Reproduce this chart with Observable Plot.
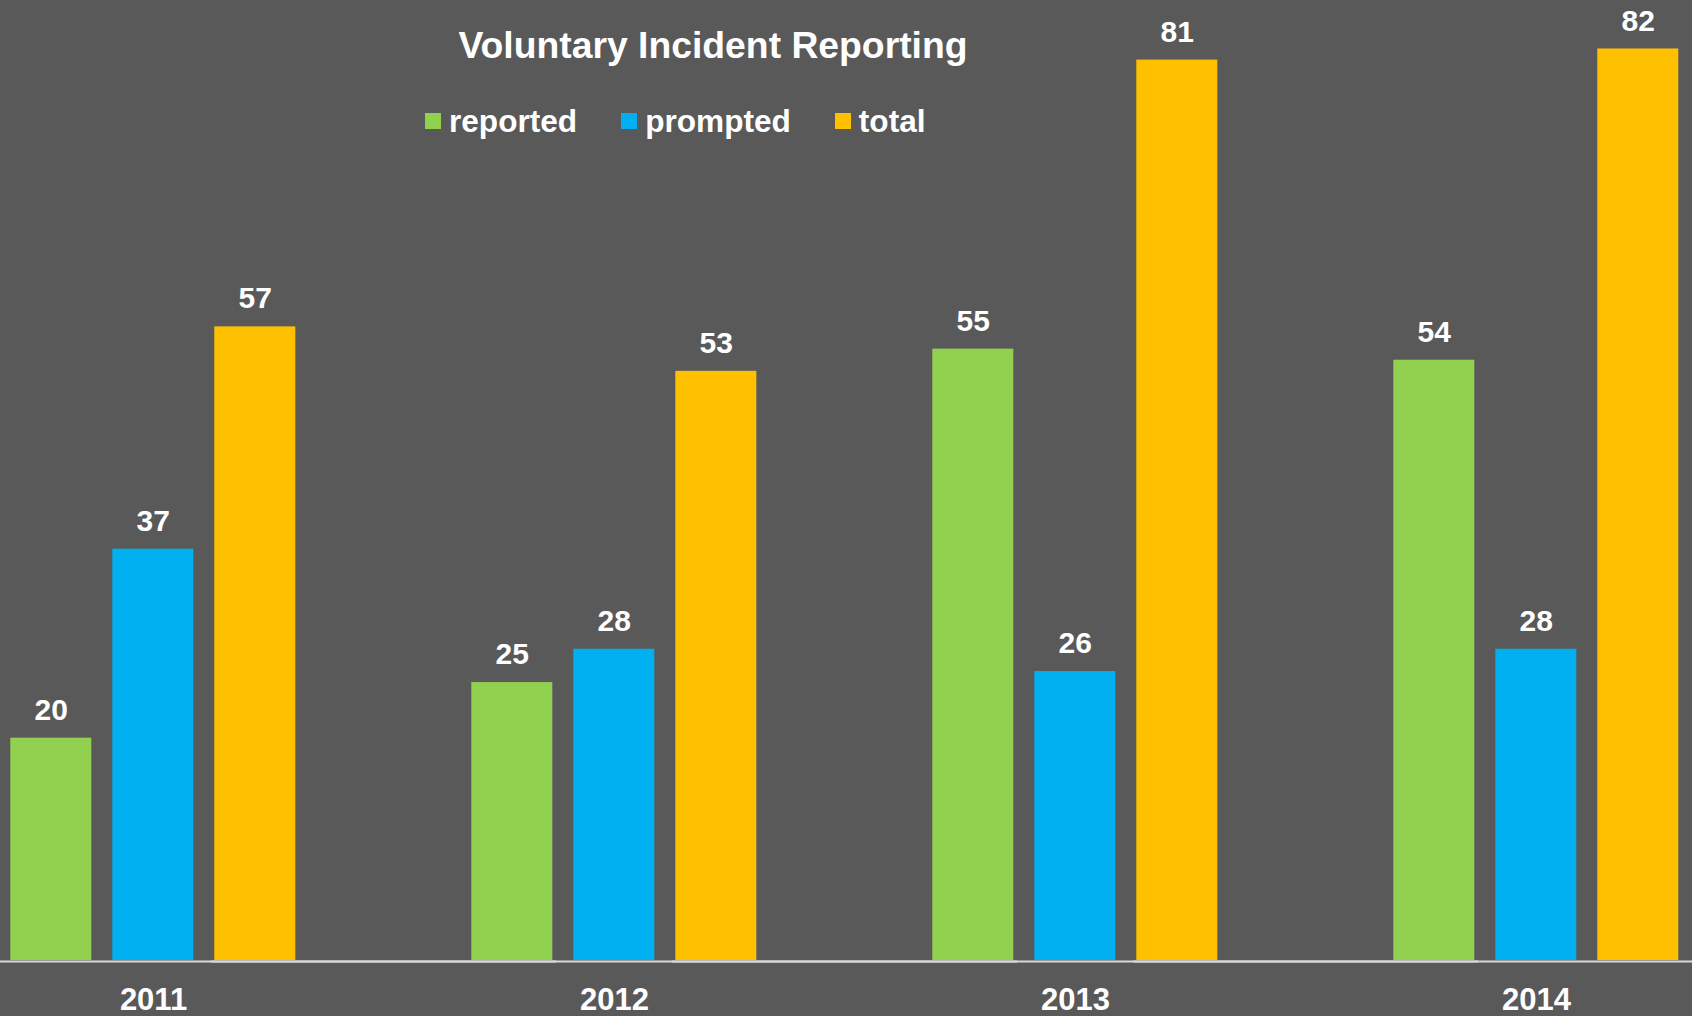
<!DOCTYPE html>
<html>
<head>
<meta charset="utf-8">
<script src="https://cdn.jsdelivr.net/npm/d3@7"></script>
<script src="https://cdn.jsdelivr.net/npm/@observablehq/plot@0.6"></script>
<style>
  html, body { margin: 0; padding: 0; background: #595959; }
  #wrap { position: relative; width: 1692px; height: 1016px; overflow: hidden; font-family: "Liberation Sans", Arial, sans-serif; color: #fff; }
  #title { position: absolute; left: 0; width: 1426px; top: 25.5px; text-align: center; font-size: 37.3px; line-height: 38px; font-weight: bold; }
  #legend { position: absolute; left: 425px; top: 105.5px; display: flex; font-size: 31.6px; line-height: 31px; font-weight: bold; }
  .item { display: flex; align-items: center; margin-right: 44px; }
  .sw { width: 16px; height: 16px; margin-right: 8px; }
</style>
</head>
<body>
<div id="wrap">
  <div id="chart"></div>
  <div id="title">Voluntary Incident Reporting</div>
  <div id="legend"></div>
</div>
<script>
const years = ["2011", "2012", "2013", "2014"];
const series = ["reported", "prompted", "total"];
const colors = ["#92D050", "#00B0F0", "#FFC000"];
const reported = [20, 25, 55, 54];
const prompted = [37, 28, 26, 28];
const total = [57, 53, 81, 82];

const values = {reported, prompted, total};
const data = [];
years.forEach((year, i) => {
  series.forEach(s => data.push({year, series: s, value: values[s][i]}));
});

const chart = Plot.plot({
  width: 1692,
  height: 1016,
  marginLeft: 9.7,
  marginRight: 13,
  marginTop: 4,
  marginBottom: 56,
  style: {background: "#595959", color: "white", fontFamily: "'Liberation Sans', Arial, sans-serif", overflow: "visible"},
  fx: {domain: years, paddingInner: 0.3798, paddingOuter: 0, label: null},
  x: {domain: series, paddingInner: 0.21, paddingOuter: 0, axis: null},
  y: {domain: [0, 86], axis: null},
  color: {domain: series, range: colors},
  marks: [
    Plot.barY(data, {fx: "year", x: "series", y: "value", fill: "series"}),
    Plot.ruleY([0], {stroke: "#d9d9d9", strokeWidth: 2, dy: 1, insetLeft: -260, insetRight: -260}),
    Plot.text(data, {fx: "year", x: "series", y: "value", text: d => String(d.value), dy: -28, lineAnchor: "middle", fill: "white", fontSize: 30, fontWeight: "bold"}),
    Plot.axisFx({anchor: "bottom", tickSize: 0, tickPadding: 27, fontSize: 31, fontWeight: "bold", label: null})
  ]
});
document.getElementById("chart").append(chart);

const legend = document.getElementById("legend");
series.forEach((s, i) => {
  const item = document.createElement("div");
  item.className = "item";
  const sw = document.createElement("div");
  sw.className = "sw";
  sw.style.background = colors[i];
  const label = document.createElement("span");
  label.textContent = s;
  item.append(sw, label);
  legend.append(item);
});
</script>
</body>
</html>
